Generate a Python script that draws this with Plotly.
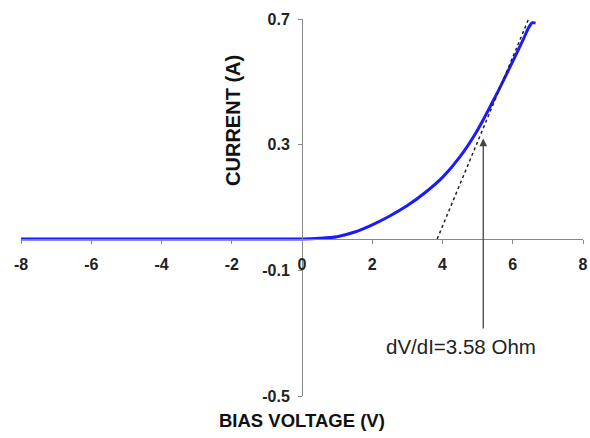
import plotly.graph_objects as go

# Data
bias_flat = [-8, -6, -4, -2, 0]
current_flat = [0, 0, 0, 0, 0]
bias_rise = [0, 0.5, 1.0, 1.5, 2.0, 2.5, 3.0, 3.5, 4.0, 4.5, 5.0, 5.5, 6.0, 6.3, 6.45, 6.55, 6.65]
current_rise = [0, 0.002, 0.007, 0.022, 0.045, 0.073, 0.106, 0.147, 0.196, 0.262, 0.347, 0.452, 0.565, 0.635, 0.672, 0.688, 0.687]
tangent_x = [3.85, 6.47]
tangent_y = [0.0, 0.705]
arrow_x = 5.16
arrow_y_tip = 0.32
arrow_y_tail = -0.29
x_ticks = [-8, -6, -4, -2, 0, 2, 4, 6, 8]
y_ticks = [-0.5, -0.1, 0.3, 0.7]
label_text = "dV/dI=3.58 Ohm"

FONT = "Liberation Sans, Arial, sans-serif"
blue = "#1a1aff"

fig = go.Figure()
fig.add_trace(go.Scatter(x=bias_flat + bias_rise[1:], y=current_flat + current_rise[1:],
                         mode="lines", line=dict(color=blue, width=3, shape="spline", smoothing=0.8),
                         showlegend=False, hoverinfo="skip"))
fig.add_trace(go.Scatter(x=tangent_x, y=tangent_y, mode="lines",
                         line=dict(color="#222222", width=1.5, dash="dot"),
                         showlegend=False, hoverinfo="skip"))

fig.add_annotation(x=arrow_x, y=arrow_y_tip, ax=arrow_x, ay=arrow_y_tail,
                   xref="x", yref="y", axref="x", ayref="y", text="",
                   showarrow=True, arrowhead=2, arrowsize=1.2, arrowwidth=1.3,
                   arrowcolor="#444444")
fig.add_annotation(x=4.53, y=-0.344, xref="x", yref="y", text=label_text, showarrow=False,
                   xanchor="center", yanchor="middle",
                   font=dict(family=FONT, size=20.5, color="#222222"))
fig.add_annotation(x=0.377, y=0.732, xref="paper", yref="paper", text="<b>CURRENT (A)</b>",
                   textangle=-90, showarrow=False, xanchor="center", yanchor="middle",
                   font=dict(family=FONT, size=20, color="#111111"))
fig.add_annotation(x=0.5, y=-0.066, xref="paper", yref="paper", text="<b>BIAS VOLTAGE (V)</b>",
                   showarrow=False, xanchor="center", yanchor="middle",
                   font=dict(family=FONT, size=18.5, color="#111111"))

fig.update_layout(
    width=590, height=438,
    margin=dict(l=21, r=7, t=19, b=42, autoexpand=False),
    paper_bgcolor="white", plot_bgcolor="white",
    font=dict(family=FONT),
    xaxis=dict(range=[-8, 8], tickvals=x_ticks, ticktext=[str(v) for v in x_ticks],
               anchor="free", position=0.5 / 1.2, showline=True, linecolor="#888888",
               linewidth=1, ticks="outside", ticklen=4, tickcolor="#888888",
               showgrid=False, zeroline=False, ticklabelstandoff=7, automargin=False,
               ticklabeloverflow="allow",
               tickfont=dict(family=FONT, size=16, color="#222222", weight="bold")),
    yaxis=dict(range=[-0.5, 0.7], tickvals=y_ticks, ticktext=[str(v) for v in y_ticks],
               anchor="free", position=0.5, showline=True, linecolor="#888888",
               linewidth=1, ticks="outside", ticklen=4, tickcolor="#888888",
               showgrid=False, zeroline=False, ticklabelstandoff=5, automargin=False,
               ticklabeloverflow="allow",
               tickfont=dict(family=FONT, size=16, color="#222222", weight="bold")),
)

fig.write_html("out.html", config={"displayModeBar": False},
               post_script="document.body.style.margin='0px';document.body.style.overflow='hidden';")
